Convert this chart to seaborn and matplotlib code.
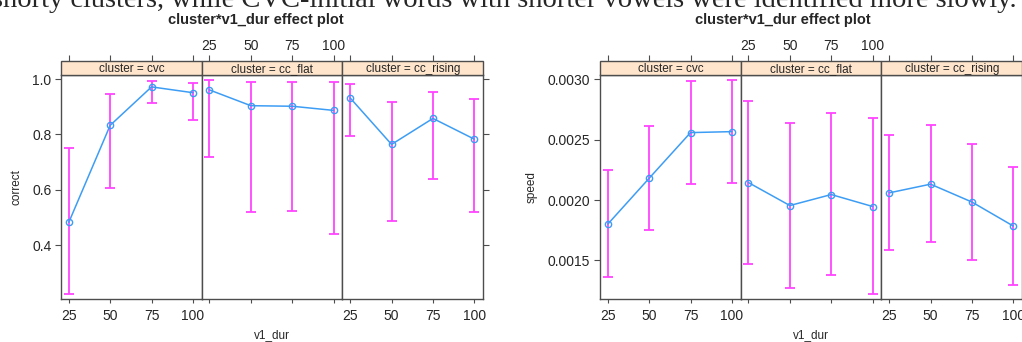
import matplotlib
matplotlib.use("Agg")
import matplotlib.pyplot as plt
import pandas as pd
import seaborn as sns
from matplotlib.patches import Rectangle

# data
dur = [25, 50, 75, 100]
clusters = ["cvc", "cc_flat", "cc_rising"]

correct_fit = [[0.482, 0.833, 0.972, 0.951],
               [0.961, 0.904, 0.902, 0.887],
               [0.932, 0.764, 0.858, 0.783]]
correct_lo = [[0.223, 0.605, 0.912, 0.851],
              [0.719, 0.520, 0.525, 0.441],
              [0.795, 0.488, 0.639, 0.518]]
correct_hi = [[0.752, 0.945, 0.993, 0.986],
              [0.996, 0.988, 0.988, 0.988],
              [0.982, 0.917, 0.955, 0.927]]

speed_fit = [[0.001801, 0.002181, 0.002559, 0.002567],
             [0.002145, 0.001955, 0.002046, 0.001947],
             [0.002060, 0.002132, 0.001984, 0.001785]]
speed_lo = [[0.001363, 0.001751, 0.002136, 0.002142],
            [0.001467, 0.001274, 0.001381, 0.001222],
            [0.001586, 0.001651, 0.001506, 0.001297]]
speed_hi = [[0.002248, 0.002611, 0.002983, 0.002994],
            [0.002821, 0.002639, 0.002722, 0.002683],
            [0.002543, 0.002620, 0.002468, 0.002270]]

caption = "shorty clusters, while CVC-initial words with shorter vowels were identified more slowly."

W, H = 1022, 342
BLUE = "#3d9df5"
MAGENTA = "#ff44ff"
STRIP = "#ffe5cc"
FRAME = "#4d4d4d"

sns.set_style("white")
plt.rcParams['font.family'] = ['Liberation Sans', 'DejaVu Sans']

fig = plt.figure(figsize=(W / 100, H / 100), dpi=100)


def px_axes(x0, y0, x1, y1):
    return fig.add_axes([x0 / W, 1 - y1 / H, (x1 - x0) / W, (y1 - y0) / H])


def draw_chart(x0, name, fit, lo, hi, ylim, yticks, ytlabels, title_x, ylab_x):
    panel_w = 140.7
    top, bottom = 75, 299
    strip_h = 14 / (bottom - top)
    rows = []
    for i, cl in enumerate(clusters):
        for j, d in enumerate(dur):
            rows.append({"cluster": cl, "v1_dur": d, name: fit[i][j],
                         "lo": lo[i][j], "hi": hi[i][j]})
    df = pd.DataFrame(rows)

    for i, cl in enumerate(clusters):
        ax = px_axes(x0 + i * panel_w, top, x0 + (i + 1) * panel_w, bottom)
        sub = df[df["cluster"] == cl]
        ax.errorbar(sub["v1_dur"], sub[name],
                    yerr=[sub[name] - sub["lo"], sub["hi"] - sub[name]],
                    fmt="none", ecolor=MAGENTA, elinewidth=1.3, capsize=3.3,
                    capthick=1.3, zorder=1)
        sns.lineplot(data=sub, x="v1_dur", y=name, ax=ax, color=BLUE,
                     marker="o", markersize=4.5, markerfacecolor="none",
                     markeredgecolor=BLUE, markeredgewidth=1.0,
                     linewidth=1.1, zorder=3)
        ax.set_xlim(20.3, 105.3)
        ax.set_ylim(*ylim)
        ax.set_xlabel("")
        ax.set_ylabel("")
        for s in ax.spines.values():
            s.set_color(FRAME)
            s.set_linewidth(1.0)

        ax.set_xticks(dur)
        ax.set_xticklabels([str(d) for d in dur] if i != 1 else [])
        ax.set_yticks(yticks)
        ax.set_yticklabels(ytlabels if i == 0 else [])
        ax.tick_params(axis="x", bottom=True, direction="out", length=3,
                       width=0.8, color=FRAME, labelsize=10, pad=4)
        ax.tick_params(axis="y", left=(i == 0), right=(i == 2),
                       direction="out", length=4, width=0.8, color=FRAME,
                       labelsize=10, pad=3)

        # strip
        ax.add_patch(Rectangle((0, 1), 1, strip_h, transform=ax.transAxes,
                               clip_on=False, facecolor=STRIP,
                               edgecolor=FRAME, linewidth=1.0, zorder=5))
        ax.text(0.5, 1 + strip_h / 2 - 0.005, f"cluster = {cl}",
                transform=ax.transAxes, ha="center", va="center",
                fontsize=8.5, zorder=6)

        # top axis above the strip
        sec = ax.secondary_xaxis(1 + strip_h)
        sec.set_xticks(dur)
        sec.set_xticklabels([str(d) for d in dur] if i == 1 else [])
        sec.spines["top"].set_visible(False)
        sec.tick_params(axis="x", direction="out", length=4, width=0.8,
                        color=FRAME, labelsize=10, pad=1.5)

    fig.text(title_x / W, 1 - 20 / H, "cluster*v1_dur effect plot",
             ha="center", va="center", fontsize=10.5, fontweight="bold")
    fig.text((x0 + 1.5 * panel_w) / W, 1 - 335 / H, "v1_dur",
             ha="center", va="center", fontsize=8.5)
    fig.text(ylab_x / W, 1 - 187 / H, name, rotation=90,
             ha="center", va="center", fontsize=8.5)


draw_chart(61, "correct", correct_fit, correct_lo, correct_hi,
           (0.205, 1.015), [0.4, 0.6, 0.8, 1.0], ["0.4", "0.6", "0.8", "1.0"],
           256, 17)
draw_chart(600, "speed", speed_fit, speed_lo, speed_hi,
           (0.001181, 0.003036), [0.0015, 0.0020, 0.0025, 0.0030],
           ["0.0015", "0.0020", "0.0025", "0.0030"], 783, 532)

# cut-off line of running text above the figures
fig.text(1017 / W, 1 - 7 / H, caption, ha="right", va="baseline",
         family=["Liberation Serif", "DejaVu Serif"], fontsize=20.5)

fig.savefig("out.png", dpi=100)
